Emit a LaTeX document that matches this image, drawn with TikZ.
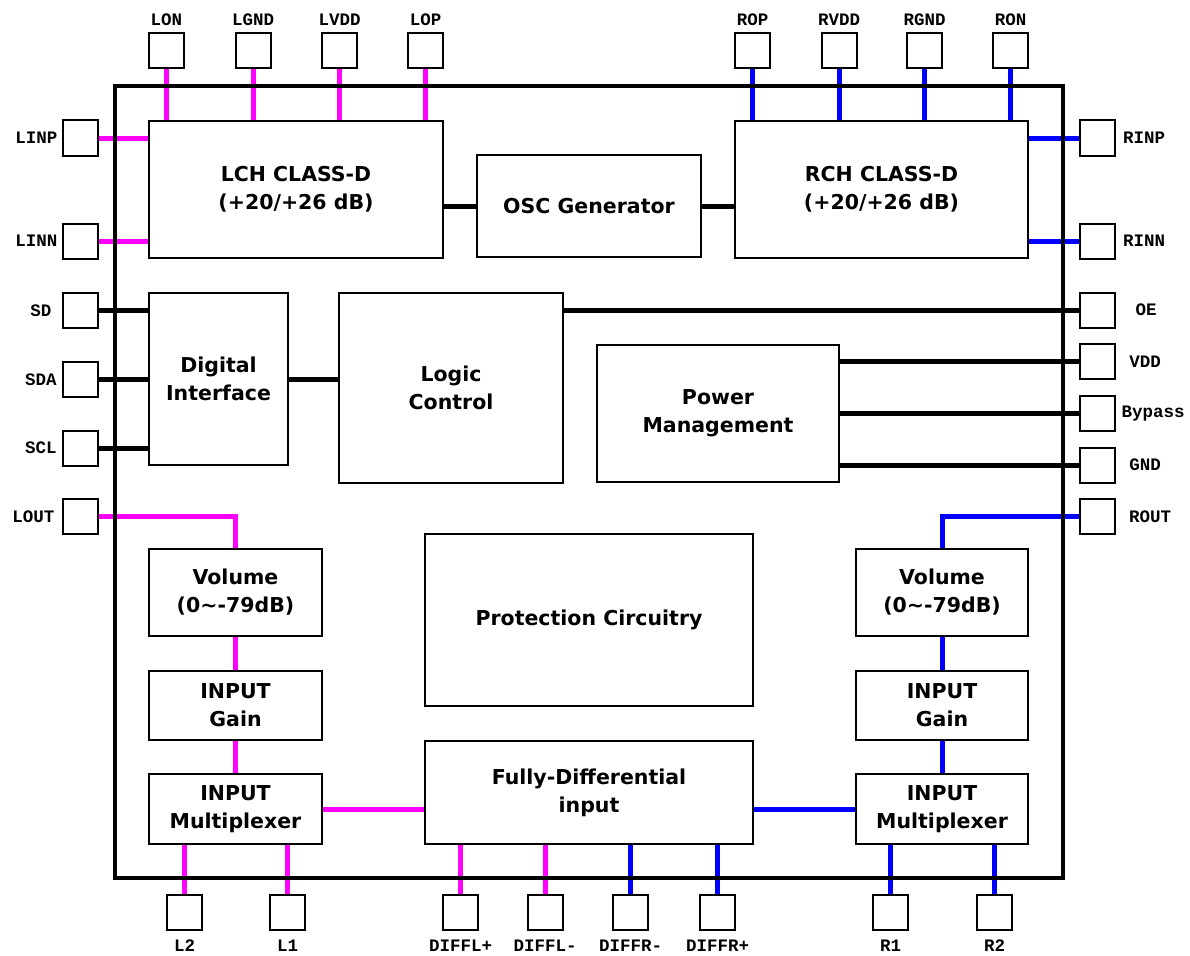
\documentclass[tikz,border=0pt]{standalone}
\usepackage{fontspec}
\setmainfont{DejaVu Sans}
\newfontfamily\pinfont{Liberation Mono}
\definecolor{pinkc}{HTML}{FF00FF}
\definecolor{bluec}{HTML}{0000FF}
\begin{document}
\begin{tikzpicture}[x=1pt,y=-1pt,
  blk/.style={draw, line width=2pt, fill=white, align=center, inner sep=0pt,
    font=\bfseries\fontsize{20.5}{28}\selectfont},
  pin/.style={draw, line width=2pt, fill=white, minimum size=35pt, inner sep=0pt},
  plabel/.style={font=\pinfont\bfseries\fontsize{17.5}{20}\selectfont, inner sep=0pt},
  wire/.style={line width=5pt, black},
  pw/.style={line width=5pt, pinkc},
  bw/.style={line width=5pt, bluec}]
\useasboundingbox (0,0) rectangle (1190,955);
% blocks
\node[blk, minimum width=294pt, minimum height=137pt] (lch) at (296,189.5) {LCH CLASS-D\\(+20/+26 dB)};
\node[blk, minimum width=293pt, minimum height=137pt] (rch) at (881.5,189.5) {RCH CLASS-D\\(+20/+26 dB)};
\node[blk, minimum width=224pt, minimum height=102pt] (osc) at (589,206) {OSC Generator};
\node[blk, minimum width=139pt, minimum height=172pt] (di) at (218.5,379) {Digital\\Interface};
\node[blk, minimum width=224pt, minimum height=190pt] (lc) at (451,388) {Logic\\Control};
\node[blk, minimum width=242pt, minimum height=137pt] (pm) at (718,413.5) {Power\\Management};
\node[blk, minimum width=173pt, minimum height=87pt] (voll) at (235.5,592.5) {Volume\\(0\textasciitilde-79dB)};
\node[blk, minimum width=173pt, minimum height=69pt] (gainl) at (235.5,705.5) {INPUT\\Gain};
\node[blk, minimum width=173pt, minimum height=70pt] (muxl) at (235.5,809) {INPUT\\Multiplexer};
\node[blk, minimum width=328pt, minimum height=172pt] (prot) at (589,620) {Protection Circuitry};
\node[blk, minimum width=328pt, minimum height=103pt] (fd) at (589,792.5) {Fully-Differential\\input};
\node[blk, minimum width=172pt, minimum height=87pt] (volr) at (942,592.5) {Volume\\(0\textasciitilde-79dB)};
\node[blk, minimum width=172pt, minimum height=69pt] (gainr) at (942,705.5) {INPUT\\Gain};
\node[blk, minimum width=172pt, minimum height=70pt] (muxr) at (942,809) {INPUT\\Multiplexer};
% top pins
\foreach \n/\x/\t in {lon/166.5/LON, lgnd/253/LGND, lvdd/339.5/LVDD, lop/425.5/LOP,
  rop/752.5/ROP, rvdd/839/RVDD, rgnd/924.5/RGND, ron/1010.5/RON}{
  \node[pin] (\n) at (\x,51) {};
  \node[plabel] (\n l) at (\x,20) {\t};
}
% left pins
\foreach \n/\y/\t/\lx in {linp/138/LINP/36.5, linn/241/LINN/36.5, sd/310.5/SD/41,
  sda/379.5/SDA/41, scl/448/SCL/41, lout/516.5/LOUT/33.5}{
  \node[pin] (\n) at (80.5,\y) {};
  \node[plabel] (\n l) at (\lx,\y) {\t};
}
% right pins
\foreach \n/\y/\t/\lx in {rinp/138/RINP/1144, rinn/241/RINN/1144, oe/310/OE/1146,
  vdd/361.5/VDD/1145, byp/413.5/Bypass/1153, gnd/465/GND/1145, rout/516.5/ROUT/1150}{
  \node[pin] (\n) at (1097.5,\y) {};
  \node[plabel] (\n l) at (\lx,\y) {\t};
}
% bottom pins
\foreach \n/\x/\t in {ltwo/184.5/L2, lone/287.5/L1, dlp/460.5/DIFFL+, dlm/545/DIFFL-,
  drm/630.5/DIFFR-, drp/717.5/DIFFR+, rone/890.5/R1, rtwo/994.5/R2}{
  \node[pin] (\n) at (\x,912.5) {};
  \node[plabel] (\n l) at (\x,946) {\t};
}
% wires: top
\foreach \n in {lon,lgnd,lvdd,lop}{\draw[pw] (\n.south) -- (\n.south |- lch.north);}
\foreach \n in {rop,rvdd,rgnd,ron}{\draw[bw] (\n.south) -- (\n.south |- rch.north);}
% left/right class-D inputs
\draw[pw] (linp.east) -- (linp.east -| lch.west);
\draw[pw] (linn.east) -- (linn.east -| lch.west);
\draw[bw] (rinp.west) -- (rinp.west -| rch.east);
\draw[bw] (rinn.west) -- (rinn.west -| rch.east);
% osc
\draw[wire] (lch.east |- osc.west) -- (osc.west);
\draw[wire] (osc.east) -- (osc.east -| rch.west);
% digital
\draw[wire] (sd.east) -- (sd.east -| di.west);
\draw[wire] (sda.east) -- (sda.east -| di.west);
\draw[wire] (scl.east) -- (scl.east -| di.west);
\draw[wire] (di.east) -- (di.east -| lc.west);
\draw[wire] (oe.west -| lc.east) -- (oe.west);
\draw[wire] (vdd.west -| pm.east) -- (vdd.west);
\draw[wire] (byp.west -| pm.east) -- (byp.west);
\draw[wire] (gnd.west -| pm.east) -- (gnd.west);
% left audio chain
\draw[pw] (lout.east) -| (voll.north);
\draw[pw] (voll.south) -- (gainl.north);
\draw[pw] (gainl.south) -- (muxl.north);
\draw[pw] (muxl.east) -- (muxl.east -| fd.west);
\draw[pw] (ltwo.north |- muxl.south) -- (ltwo.north);
\draw[pw] (lone.north |- muxl.south) -- (lone.north);
\draw[pw] (dlp.north |- fd.south) -- (dlp.north);
\draw[pw] (dlm.north |- fd.south) -- (dlm.north);
% right audio chain
\draw[bw] (rout.west) -| (volr.north);
\draw[bw] (volr.south) -- (gainr.north);
\draw[bw] (gainr.south) -- (muxr.north);
\draw[bw] (fd.east |- muxr.west) -- (muxr.west);
\draw[bw] (rone.north |- muxr.south) -- (rone.north);
\draw[bw] (rtwo.north |- muxr.south) -- (rtwo.north);
\draw[bw] (drm.north |- fd.south) -- (drm.north);
\draw[bw] (drp.north |- fd.south) -- (drp.north);
% outer chip outline
\draw[line width=4pt, line join=miter] (115,86) rectangle (1063,878);
\end{tikzpicture}
\end{document}
